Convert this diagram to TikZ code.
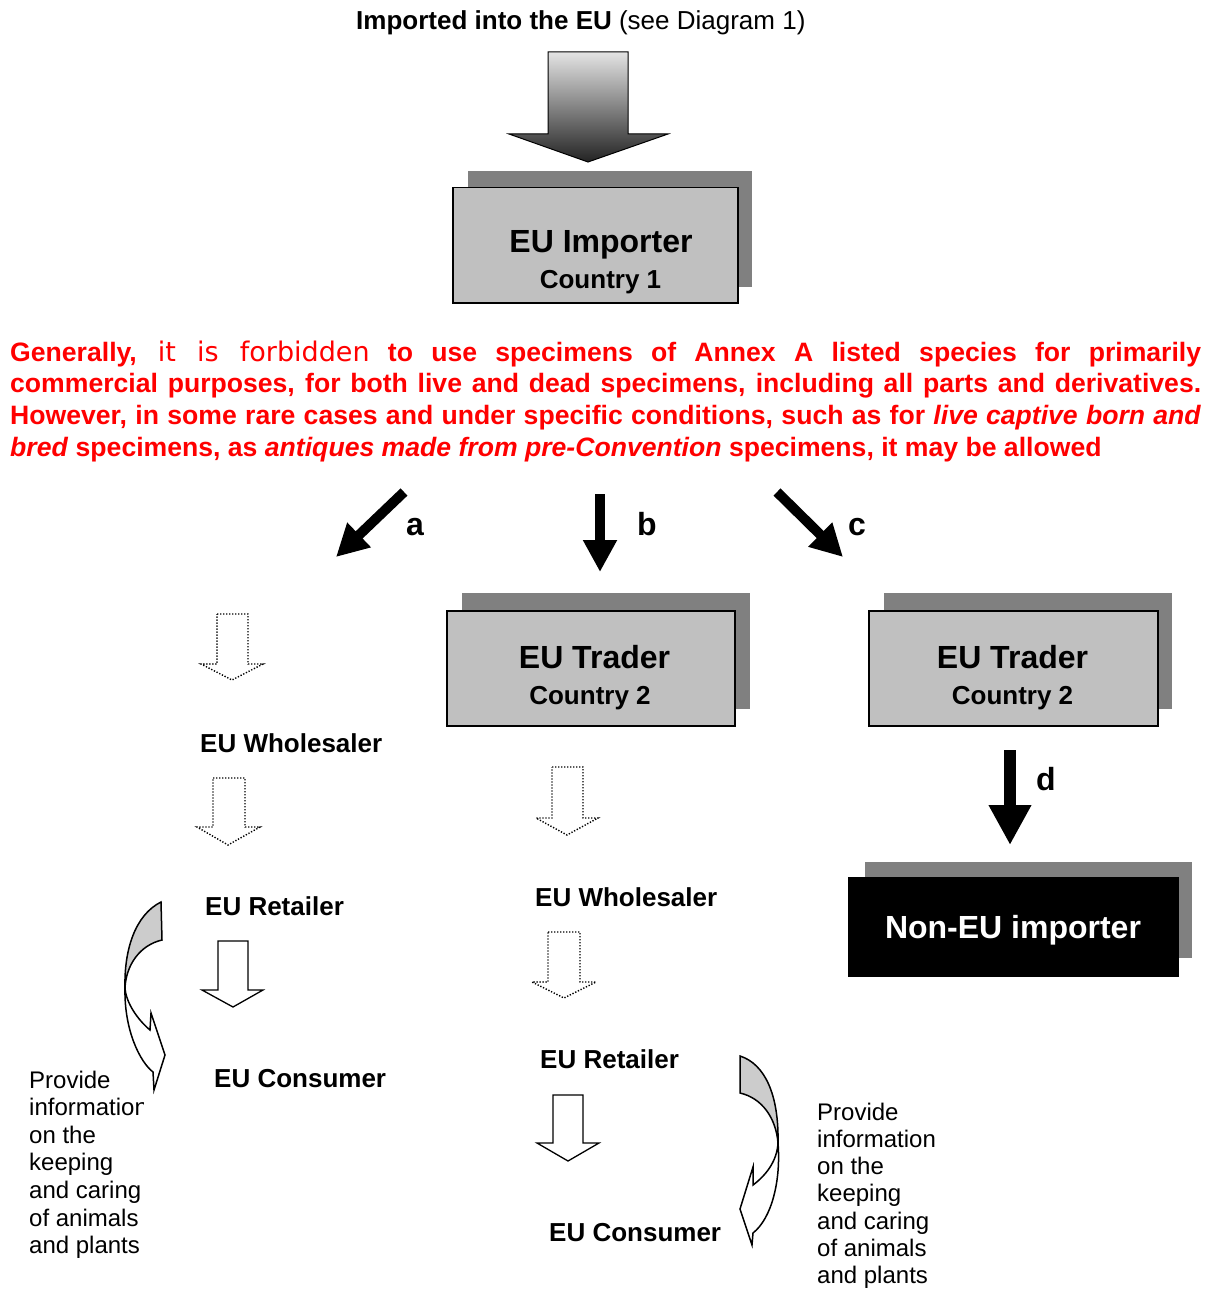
\documentclass[tikz,border=0pt]{standalone}
\usepackage{fontspec}
\setmainfont{Liberation Sans}
\newfontfamily\vfont{DejaVu Sans}
\usetikzlibrary{arrows.meta}
\definecolor{boxgray}{RGB}{192,192,192}
\definecolor{shadowgray}{RGB}{128,128,128}
\definecolor{curlgray}{RGB}{204,204,204}
\definecolor{notered}{RGB}{255,0,0}
\begin{document}
\begin{tikzpicture}[x=1pt,y=-1pt,
  shadowbox/.style={fill=shadowgray,draw=none,inner sep=0,anchor=north west},
  mainbox/.style={fill=boxgray,draw=black,line width=1.5pt,inner sep=0,anchor=north west},
  darkbox/.style={fill=black,draw=black,line width=1.5pt,inner sep=0,anchor=north west},
  bigtxt/.style={font=\fontsize{32pt}{38pt}\selectfont\bfseries,inner sep=0,anchor=base},
  midtxt/.style={font=\fontsize{26pt}{31pt}\selectfont\bfseries,inner sep=0,anchor=base},
  stagetxt/.style={font=\fontsize{26pt}{31pt}\selectfont\bfseries,inner sep=0,anchor=base west},
  redline/.style={font=\fontsize{26.6pt}{31.7pt}\selectfont\bfseries,text=notered,inner sep=0,anchor=base west},
  letter/.style={font=\fontsize{32pt}{38pt}\selectfont\bfseries,inner sep=0,anchor=base west},
  notetxt/.style={font=\fontsize{24pt}{27.4pt}\selectfont,inner sep=0,anchor=base west},
  flowarrow/.style={line width=10pt,-{Triangle[length=32pt,width=32pt]}},
  hollow/.style={draw=black,fill=white,line width=1.3pt,line join=miter},
  dotarrow/.style={draw=black,fill=white,line width=1.4pt,dash pattern=on 1.3pt off 1.7pt},
  curl/.style={draw=black,line width=1.5pt,line join=miter}
]
\useasboundingbox (0,0) rectangle (1208,1289);

% heading
\node[anchor=base west,inner sep=0,font=\fontsize{26pt}{31pt}\selectfont] (title) at (356,30)
  {\bfseries Imported into the EU \mdseries(see Diagram 1)};

% shaded entry arrow
\draw[line width=1pt,top color={rgb,255:red,228;green,228;blue,228},bottom color={rgb,255:red,35;green,35;blue,35}]
  (548,52) -- (628,52) -- (628,134) -- (668,134) -- (588,162) -- (509,134) -- (548,134) -- cycle;

% EU importer
\node[shadowbox,minimum width=284pt,minimum height=116pt] (impS) at (468,171) {};
\node[mainbox,minimum width=285pt,minimum height=115pt] (imp) at (452,187) {};
\node[bigtxt] (impT) at (601,252.5) {EU Importer};
\node[midtxt] (impC) at (600.5,288) {Country 1};

% rule text
\node[redline] (p1) at (10,361) {\makebox[1191pt][s]{Generally, {\vfont\mdseries\fontsize{27pt}{31pt}\selectfont it is forbidden} to use specimens of Annex A listed species for primarily}};
\node[redline] (p2) at (10,392.7) {\makebox[1191pt][s]{commercial purposes, for both live and dead specimens, including all parts and derivatives.}};
\node[redline] (p3) at (10,424.3) {\makebox[1191pt][s]{However, in some rare cases and under specific conditions, such as for \textit{live captive born and}}};
\node[redline] (p4) at (10,456) {\textit{bred} specimens, as \textit{antiques made from pre-Convention} specimens, it may be allowed};

% routes a, b, c
\coordinate (aS) at (404,492); \coordinate (aE) at (336,557);
\coordinate (bS) at (600,494); \coordinate (bE) at (600,572);
\coordinate (cS) at (777,492); \coordinate (cE) at (843,557);
\draw[flowarrow] (aS) -- (aE);
\draw[flowarrow] (bS) -- (bE);
\draw[flowarrow] (cS) -- (cE);
\node[letter] (la) at (406,535) {a};
\node[letter] (lb) at (637,535) {b};
\node[letter] (lc) at (848,535) {c};

% traders
\node[shadowbox,minimum width=288pt,minimum height=116pt] (tr1S) at (462,593) {};
\node[mainbox,minimum width=288pt,minimum height=115pt] (tr1) at (446,610) {};
\node[bigtxt] (tr1T) at (594.5,668.5) {EU Trader};
\node[midtxt] (tr1C) at (590,704) {Country 2};

\node[shadowbox,minimum width=288pt,minimum height=116pt] (tr2S) at (884,593) {};
\node[mainbox,minimum width=289pt,minimum height=115pt] (tr2) at (868,610) {};
\node[bigtxt] (tr2T) at (1012.5,668.5) {EU Trader};
\node[midtxt] (tr2C) at (1012.5,704) {Country 2};

% route d to non-EU importer
\coordinate (dS) at (1010,750); \coordinate (dE) at (1010,845);
\draw[line width=12pt,-{Triangle[length=40pt,width=40pt]}] (dS) -- (dE);
\node[letter] (ld) at (1036,790) {d};
\node[shadowbox,minimum width=327pt,minimum height=96pt] (nonS) at (865,862) {};
\node[darkbox,minimum width=329pt,minimum height=98pt] (non) at (848,877) {};
\node[bigtxt,text=white] (nonT) at (1013,938.5) {Non-EU importer};

% left chain (route a)
\path[dotarrow] (217,614) -- (248,614) -- (248,664) -- (263,664) -- (232,680) -- (201,664) -- (217,664) -- cycle;
\node[stagetxt] (lw) at (200,752) {EU Wholesaler};
\path[dotarrow] (213,778) -- (245,778) -- (245,827) -- (260,827) -- (228,845) -- (197,827) -- (213,827) -- cycle;
\node[stagetxt] (lr) at (205,915) {EU Retailer};
\path[hollow] (218,941) -- (248,941) -- (248,990) -- (263,990) -- (233,1007) -- (202,990) -- (218,990) -- cycle;
\node[stagetxt] (lc2) at (214,1087) {EU Consumer};

% middle chain (route b)
\path[dotarrow] (552,767) -- (583,767) -- (583,818) -- (598,818) -- (567,835) -- (536,818) -- (552,818) -- cycle;
\node[stagetxt] (mw) at (535,906) {EU Wholesaler};
\path[dotarrow] (548,932) -- (580,932) -- (580,982) -- (596,982) -- (564,998) -- (532,982) -- (548,982) -- cycle;
\node[stagetxt] (mr) at (540,1068) {EU Retailer};
\path[hollow] (553,1095) -- (583,1095) -- (583,1143) -- (599,1143) -- (568,1161) -- (537,1143) -- (553,1143) -- cycle;
\node[stagetxt] (mc) at (549,1241) {EU Consumer};

% curled arrow, left
\path[curl,fill=curlgray] (161,902) .. controls (135,915) and (124,950) .. (125,988)
  .. controls (126,965) and (140,945) .. (162,940) -- cycle;
\path[curl,fill=white] (125,988) .. controls (126,1003) and (138,1020) .. (150,1030)
  -- (151,1013) -- (165,1055) -- (154,1090) -- (153,1072)
  .. controls (140,1062) and (124,1030) .. (125,988) -- cycle;
\begin{scope}
  \clip (0,1050) rectangle (143,1289);
  \node[notetxt] (linfo) at (29,1088) {\vtop{\baselineskip=27.6pt
    \hbox{Provide}\hbox{information}\hbox{on the}\hbox{keeping}\hbox{and caring}\hbox{of animals}\hbox{and plants}}};
\end{scope}

% curled arrow, right
\path[curl,fill=curlgray] (740,1056) .. controls (765,1064) and (779,1095) .. (778,1143)
  .. controls (776,1118) and (762,1098) .. (740,1093) -- cycle;
\path[curl,fill=white] (778,1143) .. controls (781,1180) and (772,1218) .. (753,1233)
  -- (752,1245) -- (740,1209) -- (753,1167) -- (753,1185)
  .. controls (765,1176) and (777,1162) .. (778,1143) -- cycle;
\node[notetxt] (rinfo) at (817,1120) {\vtop{\baselineskip=27.3pt
    \hbox{Provide}\hbox{information}\hbox{on the}\hbox{keeping}\hbox{and caring}\hbox{of animals}\hbox{and plants}}};
\end{tikzpicture}
\end{document}
